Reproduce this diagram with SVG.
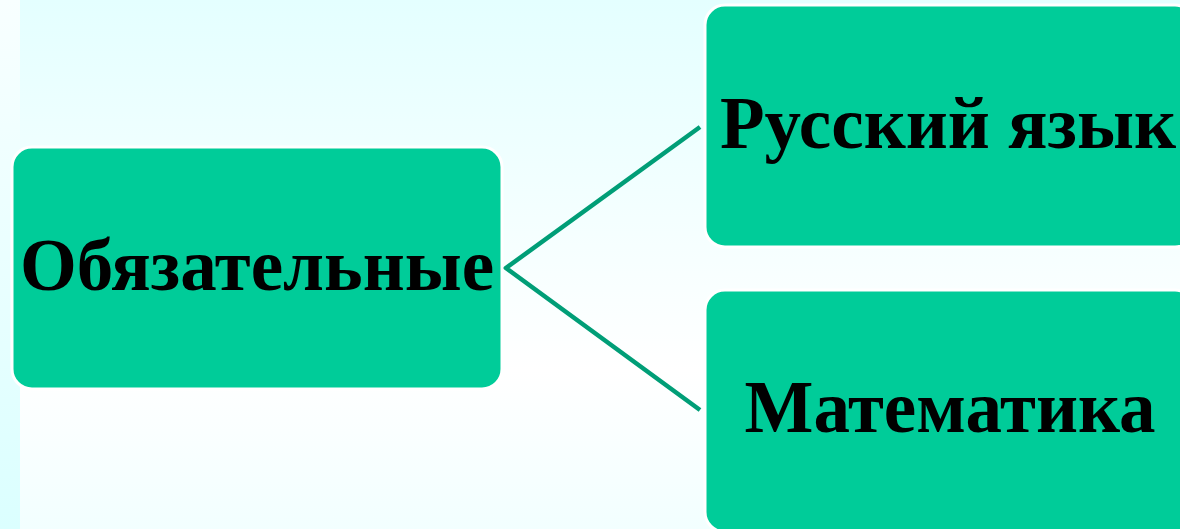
<svg xmlns="http://www.w3.org/2000/svg" width="1180" height="529" viewBox="0 0 1180 529">
  <defs>
    <linearGradient id="bgMain" x1="0" y1="0" x2="0" y2="1">
      <stop offset="0" stop-color="#e4ffff"/>
      <stop offset="0.7" stop-color="#ffffff"/>
      <stop offset="1" stop-color="#f2ffff"/>
    </linearGradient>
    <linearGradient id="bgStrip" x1="0" y1="0" x2="0" y2="1">
      <stop offset="0" stop-color="#f8ffff"/>
      <stop offset="1" stop-color="#dbffff"/>
    </linearGradient>
    <style>
      .box { fill: #00cc99; stroke: #ffffff; stroke-width: 3; }
      .lbl { font-family: "Liberation Serif", "Times New Roman", serif; font-weight: bold; font-size: 73px; fill: #000000; text-anchor: middle; }
      .conn { stroke: #009e77; stroke-width: 4.5; fill: none; }
    </style>
  </defs>
  <rect x="0" y="0" width="1180" height="529" fill="url(#bgMain)"/>
  <rect x="0" y="0" width="20" height="529" fill="url(#bgStrip)"/>

  <g id="connectors">
    <path class="conn" d="M700,127 L506,268 L700,410"/>
  </g>

  <g id="node-obyazatelnye">
    <rect class="box" x="12" y="147" width="490" height="242" rx="20" ry="20"/>
    <text class="lbl" x="257" y="290">Обязательные</text>
  </g>

  <g id="node-russkiy">
    <rect class="box" x="705" y="5" width="490" height="242" rx="20" ry="20"/>
    <text class="lbl" x="948" y="148">Русский язык</text>
  </g>

  <g id="node-matematika">
    <rect class="box" x="705" y="290" width="490" height="242" rx="20" ry="20"/>
    <text class="lbl" x="950" y="432">Математика</text>
  </g>
</svg>
